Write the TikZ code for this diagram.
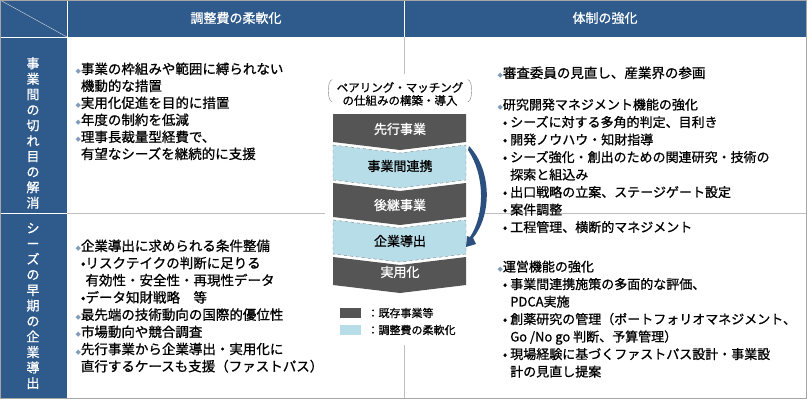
\documentclass[tikz,border=0pt]{standalone}
\usepackage{fontspec}
\setmainfont{Noto Sans CJK JP}[FakeBold=0.9]
\newfontfamily\symfont{DejaVu Sans}
\usetikzlibrary{positioning}
\definecolor{hdblue}{HTML}{2F5B8C}
\definecolor{darkband}{HTML}{555555}
\definecolor{lightband}{HTML}{B7DDE8}
\definecolor{arrowblue}{HTML}{2B5080}
\newcommand{\bul}{{\symfont\color{hdblue!60}\fontsize{7}{7}\selectfont◆}}
\newcommand{\ind}{\phantom{\bul}}
\tikzset{
  hdtext/.style={text=white,font=\fontsize{13}{15}\selectfont},
  bodytext/.style={anchor=north west,align=left,font=\fontsize{13.5}{17}\selectfont},
  bandtext/.style={font=\fontsize{13}{14}\selectfont}
}
\begin{document}
\begin{tikzpicture}[x=1pt,y=-1pt]
  \useasboundingbox (0,0) rectangle (812,402);
  % table frame
  \fill[hdblue] (0,0) rectangle (806,37);
  \fill[hdblue] (0,37) rectangle (67,398);
  \draw[white!70!gray] (0,0) -- (67,37);
  \draw[white,line width=0.8pt] (67,0) -- (67,37) (404,0) -- (404,37) (0,37) -- (67,37) (0,213) -- (67,213);
  \draw[gray!50] (67,213) -- (806,213) (404,37) -- (404,398);
  \draw[gray!70] (0,0) rectangle (806,398);
  \node[hdtext] (hleft) at (236,18) {調整費の柔軟化};
  \node[hdtext] (hright) at (605,18) {体制の強化};
  \node[hdtext,align=center,font=\fontsize{13}{15.5}\selectfont] (rowa) at (33,133) {事\\業\\間\\の\\切\\れ\\目\\の\\解\\消};
  \node[hdtext,align=center,font=\fontsize{13}{15.5}\selectfont] (rowb) at (33,306) {シ\\ー\\ズ\\の\\早\\期\\の\\企\\業\\導\\出};
  % white panel for chevrons
  \fill[white] (325,74) rectangle (478,345);
  % chevron bands
  \fill[darkband] (333,114) -- (466,114) -- (466,142) -- (400,150) -- (333,142) -- cycle;
  \fill[lightband] (333,145) -- (400,153) -- (466,145) -- (466,180) -- (400,188) -- (333,180) -- cycle;
  \draw[gray,dashed,line width=0.4pt] (333,145) -- (400,153) -- (466,145) -- (466,180) -- (400,188) -- (333,180) -- cycle;
  \fill[darkband] (333,183) -- (400,191) -- (466,183) -- (466,217) -- (400,225) -- (333,217) -- cycle;
  \fill[lightband] (333,220) -- (400,228) -- (466,220) -- (466,254) -- (400,262) -- (333,254) -- cycle;
  \draw[gray,dashed,line width=0.4pt] (333,220) -- (400,228) -- (466,220) -- (466,254) -- (400,262) -- (333,254) -- cycle;
  \fill[darkband] (333,257) -- (400,265) -- (466,257) -- (466,285) -- (400,293) -- (333,285) -- cycle;
  \node[bandtext,text=white] (b1) at (400,129) {先行事業};
  \node[bandtext] (b2) at (400,166) {事業間連携};
  \node[bandtext,text=white] (b3) at (400,205) {後継事業};
  \node[bandtext] (b4) at (400,241) {企業導出};
  \node[bandtext,text=white] (b5) at (400,272) {実用化};
  \coordinate (arrs) at (469,146);
  \coordinate (arre) at (469,246);
  \fill[arrowblue] (arrs) .. controls (492,170) and (492,215) .. (473,238) -- (476,244) -- (466,247) -- (467,236) -- (470,237) .. controls (485,215) and (485,175) .. (468,150) -- cycle;
  % pairing label
  \node[font=\fontsize{11.5}{13}\selectfont,align=center] (pair) at (400,94) {ペアリング・マッチング\\の仕組みの構築・導入};
  \draw[gray] ([xshift=-1pt,yshift=-1pt]pair.north west) arc[start angle=90,end angle=270,x radius=4pt,y radius=11pt];
  \draw[gray] ([xshift=1pt,yshift=-1pt]pair.north east) arc[start angle=90,end angle=-90,x radius=4pt,y radius=11pt];
  % legend
  \fill[darkband] (340,308) rectangle (361,318);
  \fill[lightband] (340,325) rectangle (361,335);
  \node[anchor=west,font=\fontsize{11}{12}\selectfont] (lg1) at (364,313) {：既存事業等};
  \node[anchor=west,font=\fontsize{11}{12}\selectfont] (lg2) at (364,330) {：調整費の柔軟化};
  % left texts
  \node[bodytext] (ta) at (72,59) {\bul 事業の枠組みや範囲に縛られない\\\ind 機動的な措置\\\bul 実用化促進を目的に措置\\\bul 年度の制約を低減\\\bul 理事長裁量型経費で、\\\ind 有望なシーズを継続的に支援};
  \node[bodytext,font=\fontsize{13.5}{17.2}\selectfont] (tb) at (72,236) {\bul 企業導出に求められる条件整備\\\ind •リスクテイクの判断に足りる\\\ind \phantom{•}有効性・安全性・再現性データ\\\ind •データ知財戦略\quad 等\\\bul 最先端の技術動向の国際的優位性\\\bul 市場動向や競合調査\\\bul 先行事業から企業導出・実用化に\\\ind 直行するケースも支援（ファストパス）};
  % right texts
  \node[bodytext] (tc) at (494,63) {\bul 審査委員の見直し、産業界の参画};
  \node[bodytext,font=\fontsize{13}{17.5}\selectfont] (td) at (494,95) {\bul 研究開発マネジメント機能の強化\\\ind •\ シーズに対する多角的判定、目利き\\\ind •\ 開発ノウハウ・知財指導\\\ind •\ シーズ強化・創出のための関連研究・技術の\\\ind \phantom{•\ }探索と組込み\\\ind •\ 出口戦略の立案、ステージゲート設定\\\ind •\ 案件調整\\\ind •\ 工程管理、横断的マネジメント};
  \node[bodytext,font=\fontsize{13}{17.5}\selectfont] (te) at (494,257) {\bul 運営機能の強化\\\ind •\ 事業間連携施策の多面的な評価、\\\ind \phantom{•\ }PDCA実施\\\ind •\ 創薬研究の管理（ポートフォリオマネジメント、\\\ind \phantom{•\ }Go /No go 判断、予算管理）\\\ind •\ 現場経験に基づくファストパス設計・事業設\\\ind \phantom{•\ }計の見直し提案};
\end{tikzpicture}
\end{document}
